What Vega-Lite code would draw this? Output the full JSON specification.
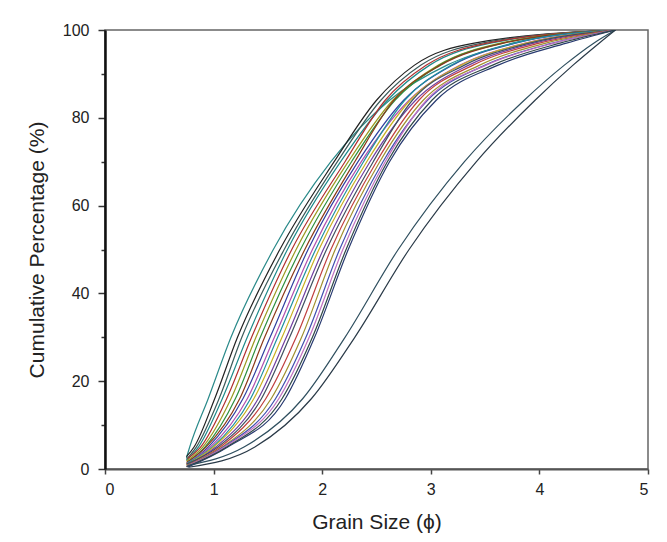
{
  "$schema": "https://vega.github.io/schema/vega-lite/v6.json",
  "width": 543,
  "height": 439,
  "autosize": "none",
  "padding": {"left": 105, "top": 30, "right": 19, "bottom": 73},
  "background": "white",
  "config": {
    "view": {"stroke": "#666666", "strokeWidth": 1.5},
    "axis": {"labelFont": "Liberation Sans", "titleFont": "Liberation Sans", "labelColor": "#222222", "titleColor": "#222222", "titleFontWeight": "normal", "grid": false}
  },
  "data": {"values": [
    {"s":"L1","x":0.75,"y":2.5},{"s":"L1","x":0.78,"y":5},{"s":"L1","x":0.95,"y":16},{"s":"L1","x":1.16,"y":30},{"s":"L1","x":1.55,"y":50},{"s":"L1","x":2.08,"y":70},{"s":"L1","x":2.62,"y":84},{"s":"L1","x":3.15,"y":92},{"s":"L1","x":3.75,"y":97},{"s":"L1","x":4.70,"y":100},
    {"s":"c2","x":0.75,"y":2.8},{"s":"c2","x":0.82,"y":5},{"s":"c2","x":1.01,"y":16},{"s":"c2","x":1.22,"y":30},{"s":"c2","x":1.61,"y":50},{"s":"c2","x":2.11,"y":70},{"s":"c2","x":2.50,"y":84},{"s":"c2","x":2.85,"y":92},{"s":"c2","x":3.40,"y":97},{"s":"c2","x":4.70,"y":100},
    {"s":"c3","x":0.75,"y":2.2},{"s":"c3","x":0.84,"y":5},{"s":"c3","x":1.05,"y":16},{"s":"c3","x":1.26,"y":30},{"s":"c3","x":1.65,"y":50},{"s":"c3","x":2.14,"y":70},{"s":"c3","x":2.54,"y":84},{"s":"c3","x":2.91,"y":92},{"s":"c3","x":3.47,"y":97},{"s":"c3","x":4.70,"y":100},
    {"s":"c4","x":0.75,"y":2.0},{"s":"c4","x":0.86,"y":5},{"s":"c4","x":1.08,"y":16},{"s":"c4","x":1.31,"y":30},{"s":"c4","x":1.68,"y":50},{"s":"c4","x":2.17,"y":70},{"s":"c4","x":2.60,"y":84},{"s":"c4","x":2.99,"y":92},{"s":"c4","x":3.55,"y":97},{"s":"c4","x":4.70,"y":100},
    {"s":"c5","x":0.76,"y":2.4},{"s":"c5","x":0.88,"y":5},{"s":"c5","x":1.12,"y":16},{"s":"c5","x":1.35,"y":30},{"s":"c5","x":1.72,"y":50},{"s":"c5","x":2.21,"y":70},{"s":"c5","x":2.58,"y":84},{"s":"c5","x":2.96,"y":92},{"s":"c5","x":3.52,"y":97},{"s":"c5","x":4.70,"y":100},
    {"s":"c6","x":0.75,"y":1.8},{"s":"c6","x":0.90,"y":5},{"s":"c6","x":1.16,"y":16},{"s":"c6","x":1.39,"y":30},{"s":"c6","x":1.76,"y":50},{"s":"c6","x":2.24,"y":70},{"s":"c6","x":2.65,"y":84},{"s":"c6","x":3.07,"y":92},{"s":"c6","x":3.64,"y":97},{"s":"c6","x":4.70,"y":100},
    {"s":"c7","x":0.76,"y":1.6},{"s":"c7","x":0.92,"y":5},{"s":"c7","x":1.20,"y":16},{"s":"c7","x":1.43,"y":30},{"s":"c7","x":1.80,"y":50},{"s":"c7","x":2.27,"y":70},{"s":"c7","x":2.67,"y":84},{"s":"c7","x":3.08,"y":92},{"s":"c7","x":3.66,"y":97},{"s":"c7","x":4.70,"y":100},
    {"s":"c8","x":0.75,"y":1.5},{"s":"c8","x":0.93,"y":5},{"s":"c8","x":1.24,"y":16},{"s":"c8","x":1.47,"y":30},{"s":"c8","x":1.84,"y":50},{"s":"c8","x":2.30,"y":70},{"s":"c8","x":2.66,"y":84},{"s":"c8","x":3.09,"y":92},{"s":"c8","x":3.67,"y":97},{"s":"c8","x":4.70,"y":100},
    {"s":"c9","x":0.76,"y":1.3},{"s":"c9","x":0.95,"y":5},{"s":"c9","x":1.27,"y":16},{"s":"c9","x":1.52,"y":30},{"s":"c9","x":1.87,"y":50},{"s":"c9","x":2.33,"y":70},{"s":"c9","x":2.75,"y":84},{"s":"c9","x":3.20,"y":92},{"s":"c9","x":3.78,"y":97},{"s":"c9","x":4.70,"y":100},
    {"s":"c10","x":0.75,"y":1.2},{"s":"c10","x":0.97,"y":5},{"s":"c10","x":1.31,"y":16},{"s":"c10","x":1.56,"y":30},{"s":"c10","x":1.91,"y":50},{"s":"c10","x":2.36,"y":70},{"s":"c10","x":2.80,"y":84},{"s":"c10","x":3.27,"y":92},{"s":"c10","x":3.87,"y":97},{"s":"c10","x":4.70,"y":100},
    {"s":"c11","x":0.76,"y":1.4},{"s":"c11","x":0.99,"y":5},{"s":"c11","x":1.34,"y":16},{"s":"c11","x":1.59,"y":30},{"s":"c11","x":1.94,"y":50},{"s":"c11","x":2.38,"y":70},{"s":"c11","x":2.76,"y":84},{"s":"c11","x":3.19,"y":92},{"s":"c11","x":3.77,"y":97},{"s":"c11","x":4.70,"y":100},
    {"s":"c12","x":0.75,"y":1.0},{"s":"c12","x":1.00,"y":5},{"s":"c12","x":1.37,"y":16},{"s":"c12","x":1.63,"y":30},{"s":"c12","x":1.97,"y":50},{"s":"c12","x":2.41,"y":70},{"s":"c12","x":2.81,"y":84},{"s":"c12","x":3.28,"y":92},{"s":"c12","x":3.88,"y":97},{"s":"c12","x":4.70,"y":100},
    {"s":"c13","x":0.76,"y":0.9},{"s":"c13","x":1.02,"y":5},{"s":"c13","x":1.41,"y":16},{"s":"c13","x":1.67,"y":30},{"s":"c13","x":2.01,"y":50},{"s":"c13","x":2.44,"y":70},{"s":"c13","x":2.86,"y":84},{"s":"c13","x":3.35,"y":92},{"s":"c13","x":3.95,"y":97},{"s":"c13","x":4.70,"y":100},
    {"s":"c14","x":0.75,"y":1.1},{"s":"c14","x":1.04,"y":5},{"s":"c14","x":1.44,"y":16},{"s":"c14","x":1.70,"y":30},{"s":"c14","x":2.04,"y":50},{"s":"c14","x":2.47,"y":70},{"s":"c14","x":2.83,"y":84},{"s":"c14","x":3.31,"y":92},{"s":"c14","x":3.91,"y":97},{"s":"c14","x":4.70,"y":100},
    {"s":"c15","x":0.76,"y":0.8},{"s":"c15","x":1.06,"y":5},{"s":"c15","x":1.48,"y":16},{"s":"c15","x":1.76,"y":30},{"s":"c15","x":2.08,"y":50},{"s":"c15","x":2.50,"y":70},{"s":"c15","x":2.89,"y":84},{"s":"c15","x":3.39,"y":92},{"s":"c15","x":4.00,"y":97},{"s":"c15","x":4.70,"y":100},
    {"s":"c16","x":0.75,"y":0.7},{"s":"c16","x":1.08,"y":5},{"s":"c16","x":1.53,"y":16},{"s":"c16","x":1.81,"y":30},{"s":"c16","x":2.12,"y":50},{"s":"c16","x":2.53,"y":70},{"s":"c16","x":2.93,"y":84},{"s":"c16","x":3.45,"y":92},{"s":"c16","x":4.06,"y":97},{"s":"c16","x":4.70,"y":100},
    {"s":"c17","x":0.76,"y":0.6},{"s":"c17","x":1.09,"y":5},{"s":"c17","x":1.57,"y":16},{"s":"c17","x":1.85,"y":30},{"s":"c17","x":2.16,"y":50},{"s":"c17","x":2.56,"y":70},{"s":"c17","x":2.97,"y":84},{"s":"c17","x":3.50,"y":92},{"s":"c17","x":4.12,"y":97},{"s":"c17","x":4.70,"y":100},
    {"s":"c18","x":0.75,"y":0.6},{"s":"c18","x":1.10,"y":5},{"s":"c18","x":1.60,"y":16},{"s":"c18","x":1.88,"y":30},{"s":"c18","x":2.19,"y":50},{"s":"c18","x":2.58,"y":70},{"s":"c18","x":2.96,"y":84},{"s":"c18","x":3.51,"y":92},{"s":"c18","x":4.13,"y":97},{"s":"c18","x":4.70,"y":100},
    {"s":"c19","x":0.76,"y":0.4},{"s":"c19","x":1.13,"y":5},{"s":"c19","x":1.66,"y":16},{"s":"c19","x":1.93,"y":30},{"s":"c19","x":2.24,"y":50},{"s":"c19","x":2.62,"y":70},{"s":"c19","x":3.05,"y":84},{"s":"c19","x":3.62,"y":92},{"s":"c19","x":4.25,"y":97},{"s":"c19","x":4.70,"y":100},
    {"s":"c20","x":0.75,"y":0.5},{"s":"c20","x":1.12,"y":5},{"s":"c20","x":1.63,"y":16},{"s":"c20","x":1.91,"y":30},{"s":"c20","x":2.22,"y":50},{"s":"c20","x":2.60,"y":70},{"s":"c20","x":3.01,"y":84},{"s":"c20","x":3.57,"y":92},{"s":"c20","x":4.19,"y":97},{"s":"c20","x":4.70,"y":100},
    {"s":"O1","x":0.76,"y":0.8},{"s":"O1","x":1.28,"y":5},{"s":"O1","x":1.82,"y":16},{"s":"O1","x":2.21,"y":30},{"s":"O1","x":2.70,"y":50},{"s":"O1","x":3.31,"y":70},{"s":"O1","x":3.86,"y":84},{"s":"O1","x":4.23,"y":92},{"s":"O1","x":4.50,"y":97},{"s":"O1","x":4.70,"y":100},
    {"s":"O2","x":0.77,"y":0.4},{"s":"O2","x":1.38,"y":5},{"s":"O2","x":1.90,"y":16},{"s":"O2","x":2.30,"y":30},{"s":"O2","x":2.80,"y":50},{"s":"O2","x":3.42,"y":70},{"s":"O2","x":3.96,"y":84},{"s":"O2","x":4.31,"y":92},{"s":"O2","x":4.55,"y":97},{"s":"O2","x":4.70,"y":100}
  ]},
  "mark": {"type": "line", "interpolate": "monotone", "strokeWidth": 1.2, "clip": true},
  "encoding": {
    "x": {
      "field": "x", "type": "quantitative",
      "scale": {"domain": [0, 5], "nice": false},
      "axis": {
        "title": "Grain Size (ϕ)",
        "values": [0, 0.5, 1, 1.5, 2, 2.5, 3, 3.5, 4, 4.5, 5],
        "format": "d",
        "labelExpr": "datum.value % 1 === 0 ? datum.label : ''",
        "labelFontSize": 16, "titleFontSize": 21,
        "labelPadding": 7, "titlePadding": 14,
        "tickSize": {"condition": {"test": "datum.value % 1 === 0", "value": 5}, "value": 3},
        "tickColor": "#444444", "tickWidth": 1.5,
        "domainColor": "#555555", "domainWidth": 2,
        "labelOverlap": false
      }
    },
    "y": {
      "field": "y", "type": "quantitative",
      "scale": {"domain": [0, 100], "nice": false},
      "axis": {
        "title": "Cumulative Percentage (%)",
        "values": [0, 10, 20, 30, 40, 50, 60, 70, 80, 90, 100],
        "labelExpr": "datum.value % 20 === 0 ? datum.label : ''",
        "labelFontSize": 16, "titleFontSize": 21,
        "labelPadding": 9, "titlePadding": 15,
        "tickSize": {"condition": {"test": "datum.value % 20 === 0", "value": 7}, "value": 4},
        "tickColor": "#333333", "tickWidth": 1.5,
        "domainColor": "#111111", "domainWidth": 2.5,
        "labelOverlap": false
      }
    },
    "color": {
      "field": "s", "type": "nominal", "legend": null,
      "scale": {
        "domain": ["L1","c2","c3","c4","c5","c6","c7","c8","c9","c10","c11","c12","c13","c14","c15","c16","c17","c18","c19","c20","O1","O2"],
        "range": ["#2a8a8a","#222222","#3c5a5a","#1f8a8a","#b03030","#9a9a20","#2f8f3f","#8b3a1a","#3040a0","#b050b0","#2090a0","#c8b020","#7040a0","#405060","#c04040","#a09030","#4050b0","#c070c0","#283a70","#304848","#2f4f5f","#2a3a48"]
      }
    }
  }
}
